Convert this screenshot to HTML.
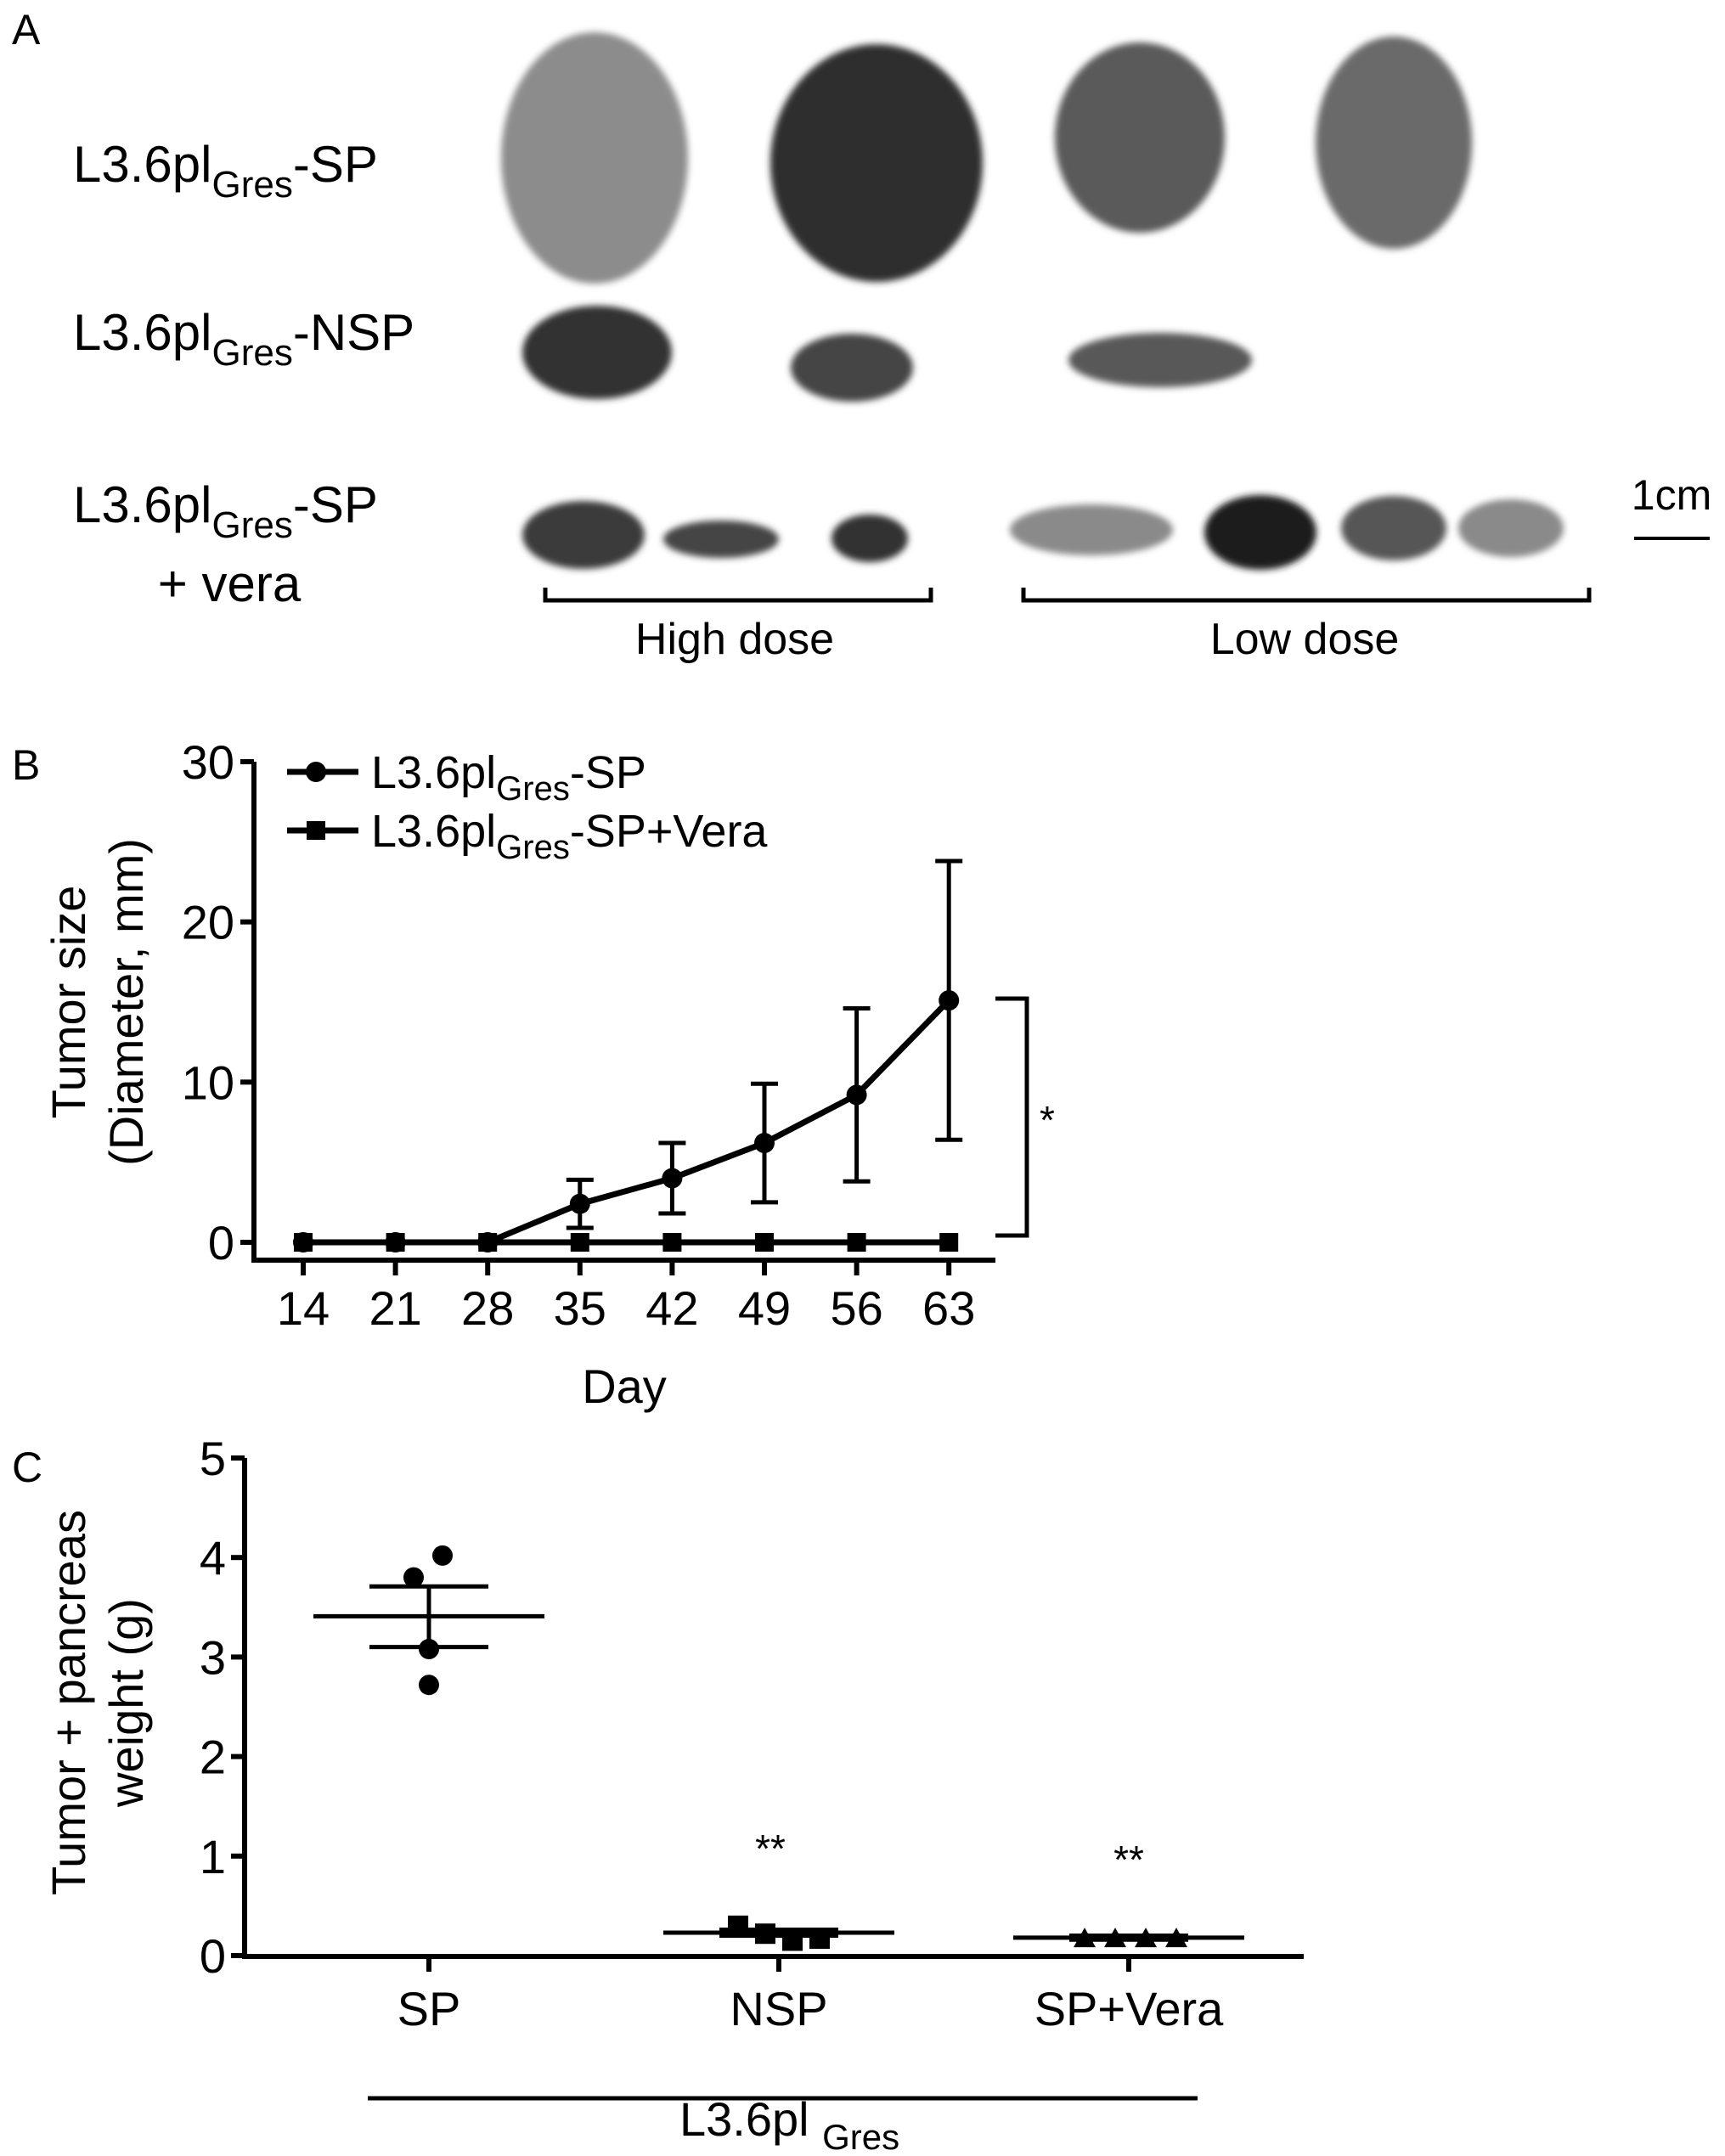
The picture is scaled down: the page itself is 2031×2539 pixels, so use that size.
<!DOCTYPE html>
<html><head><meta charset="utf-8"><style>
html,body{margin:0;padding:0;background:#fff}
svg{display:block;font-family:"Liberation Sans",Arial,sans-serif}
</style></head><body>
<svg id="fig" width="2031" height="2539" viewBox="0 0 2031 2539" xmlns="http://www.w3.org/2000/svg">
<defs><filter id="bl"><feGaussianBlur stdDeviation="4"/></filter></defs>
<!-- Panel A -->
<g>
<text x="14" y="52" font-size="50">A</text>
<text x="86" y="214" font-size="60">L3.6pl<tspan font-size="44" dy="18">Gres</tspan><tspan dy="-18">-SP</tspan></text>
<text x="86" y="412" font-size="60">L3.6pl<tspan font-size="44" dy="18">Gres</tspan><tspan dy="-18">-NSP</tspan></text>
<text x="86" y="615" font-size="60">L3.6pl<tspan font-size="44" dy="18">Gres</tspan><tspan dy="-18">-SP</tspan></text>
<text x="270" y="708" font-size="60" text-anchor="middle">+ vera</text>
<g filter="url(#bl)">
<ellipse cx="700" cy="186" rx="110" ry="148" fill="#8c8c8c"/>
<ellipse cx="1032" cy="192" rx="125" ry="140" fill="#2e2e2e"/>
<ellipse cx="1342" cy="162" rx="100" ry="112" fill="#5a5a5a"/>
<ellipse cx="1641" cy="168" rx="92" ry="125" fill="#6a6a6a"/>
<ellipse cx="703" cy="415" rx="88" ry="55" fill="#333"/>
<ellipse cx="1003" cy="433" rx="72" ry="40" fill="#444"/>
<ellipse cx="1366" cy="424" rx="108" ry="32" fill="#585858"/>
<ellipse cx="687" cy="630" rx="72" ry="40" fill="#3a3a3a"/>
<ellipse cx="849" cy="635" rx="68" ry="22" fill="#444"/>
<ellipse cx="1024" cy="634" rx="45" ry="28" fill="#333"/>
<ellipse cx="1285" cy="624" rx="96" ry="30" fill="#8a8a8a"/>
<ellipse cx="1484" cy="627" rx="66" ry="44" fill="#1c1c1c"/>
<ellipse cx="1641" cy="622" rx="62" ry="38" fill="#575757"/>
<ellipse cx="1779" cy="622" rx="62" ry="34" fill="#8a8a8a"/>
</g>
<path d="M642,692 V707 H1096 V692" fill="none" stroke="#000" stroke-width="5"/>
<path d="M1205,692 V707 H1871 V692" fill="none" stroke="#000" stroke-width="5"/>
<text x="865" y="770" font-size="52" text-anchor="middle">High dose</text>
<text x="1536" y="770" font-size="52" text-anchor="middle">Low dose</text>
<text x="1968" y="600" font-size="50" text-anchor="middle">1cm</text>
<line x1="1924" y1="634" x2="2013" y2="634" stroke="#000" stroke-width="4"/>
</g>
<g id="pb"></g>
<g id="pc"></g>
</svg>
<script>
const NS="http://www.w3.org/2000/svg";
// Panel B data
const days=[14,21,28,35,42,49,56,63];
const spMean=[0,0,0,2.4,4.0,6.2,9.2,15.1];
const spLow=[0,0,0,0.9,1.8,2.5,3.8,6.4];
const spHigh=[0,0,0,3.9,6.2,9.9,14.6,23.8];
const veraMean=[0,0,0,0,0,0,0,0];
const bYTicks=[0,10,20,30];
// Panel C data
const groups=["SP","NSP","SP+Vera"];
const spPts=[3.8,4.02,3.08,2.72];
const spPtsOff=[-18,16,0,0];
const nspPts=[0.3,0.22,0.15,0.17];
const veraPts=[0.17,0.17,0.17,0.17];
const groupMean=[3.41,0.23,0.18];
const groupSemLo=[3.1,0.2,0.16];
const groupSemHi=[3.71,0.26,0.2];
const cYTicks=[0,1,2,3,4,5];

function mk(parent,tag,attrs,text){const e=document.createElementNS(NS,tag);for(const k in attrs)e.setAttribute(k,attrs[k]);if(text!=null)e.textContent=text;parent.appendChild(e);return e;}

// ---- Panel B ----
const pb=document.getElementById('pb');
const bx=d=>357+(d-14)/7*108.6;
const by=v=>1463-v*(1463-897)/30;
let t=mk(pb,'text',{x:14,y:918,'font-size':50});t.textContent='B';


let ax=mk(pb,'path',{d:`M299,${by(30)} V1484 H1172`,fill:'none',stroke:'#000','stroke-width':6});


bYTicks.forEach(v=>{
 mk(pb,'line',{x1:283,x2:299,y1:by(v),y2:by(v),stroke:'#000','stroke-width':6});
 const l=mk(pb,'text',{x:276,y:by(v)+20,'font-size':56,'text-anchor':'end'},v);
 
 
});
days.forEach(d=>{
 mk(pb,'line',{x1:bx(d),x2:bx(d),y1:1484,y2:1502,stroke:'#000','stroke-width':6});
 const l=mk(pb,'text',{x:bx(d),y:1560,'font-size':56,'text-anchor':'middle'},d);
 
 
});
t=mk(pb,'text',{x:735,y:1652,'font-size':56,'text-anchor':'middle'},'Day');


t=mk(pb,'text',{transform:'translate(100,1180) rotate(-90)','font-size':56,'text-anchor':'middle'},'Tumor size');


t=mk(pb,'text',{transform:'translate(168,1180) rotate(-90)','font-size':56,'text-anchor':'middle'},'(Diameter, mm)');


// error bars
days.forEach((d,i)=>{
 if(spHigh[i]===spLow[i])return;
 const g=mk(pb,'path',{d:`M${bx(d)},${by(spLow[i])} V${by(spHigh[i])} M${bx(d)-16},${by(spLow[i])} h32 M${bx(d)-16},${by(spHigh[i])} h32`,stroke:'#000','stroke-width':5,fill:'none'});
 
 
});
let p=mk(pb,'polyline',{points:days.map((d,i)=>bx(d)+','+by(spMean[i])).join(' '),fill:'none',stroke:'#000','stroke-width':7});


p=mk(pb,'polyline',{points:days.map((d,i)=>bx(d)+','+by(veraMean[i])).join(' '),fill:'none',stroke:'#000','stroke-width':7});


days.forEach((d,i)=>{
 const c=mk(pb,'circle',{cx:bx(d),cy:by(spMean[i]),r:12,fill:'#000'});
 
 
 const s=mk(pb,'rect',{x:bx(d)-11,y:by(veraMean[i])-11,width:22,height:22,fill:'#000'});
 
 
});
// legend
[[909,'-SP','c'],[978,'-SP+Vera','s']].forEach(([y,suf,m])=>{
 const g=mk(pb,'g',{});
 
 
 mk(g,'line',{x1:338,x2:422,y1:y,y2:y,stroke:'#000','stroke-width':7});
 if(m==='c')mk(g,'circle',{cx:372,cy:y,r:12,fill:'#000'});else mk(g,'rect',{x:361,y:y-11,width:22,height:22,fill:'#000'});
 const tx=mk(g,'text',{x:437,y:y+19,'font-size':54});
 tx.innerHTML='L3.6pl<tspan font-size="40" dy="14">Gres</tspan><tspan dy="-14">'+suf+'</tspan>';
});
let br=mk(pb,'path',{d:'M1172,1176 H1209 V1455 H1172',fill:'none',stroke:'#000','stroke-width':5});


t=mk(pb,'text',{x:1233,y:1335,'font-size':46,'text-anchor':'middle'},'*');



// ---- Panel C ----
const pc=document.getElementById('pc');
const cy=v=>2303-v*(2303-1717)/5;
const gx=[505,917,1329];
t=mk(pc,'text',{x:14,y:1745,'font-size':50},'C');


ax=mk(pc,'path',{d:`M288,${cy(5)} V2304 H1535`,fill:'none',stroke:'#000','stroke-width':6});


cYTicks.forEach(v=>{
 mk(pc,'line',{x1:272,x2:288,y1:cy(v),y2:cy(v),stroke:'#000','stroke-width':6});
 const l=mk(pc,'text',{x:266,y:cy(v)+20,'font-size':56,'text-anchor':'end'},v);
 
 
});
groups.forEach((g,i)=>{
 mk(pc,'line',{x1:gx[i],x2:gx[i],y1:2304,y2:2322,stroke:'#000','stroke-width':6});
 const l=mk(pc,'text',{x:gx[i],y:2385,'font-size':56,'text-anchor':'middle'},g);
 
 
 const m=mk(pc,'line',{x1:gx[i]-136,x2:gx[i]+136,y1:cy(groupMean[i]),y2:cy(groupMean[i]),stroke:'#000','stroke-width':5});
 
 
 const e=mk(pc,'path',{d:`M${gx[i]},${cy(groupSemLo[i])} V${cy(groupSemHi[i])} M${gx[i]-70},${cy(groupSemLo[i])} h140 M${gx[i]-70},${cy(groupSemHi[i])} h140`,stroke:'#000','stroke-width':5,fill:'none'});
 
 
});
spPts.forEach((v,i)=>{
 const c=mk(pc,'circle',{cx:gx[0]+spPtsOff[i],cy:cy(v),r:12,fill:'#000'});
 
 
});
nspPts.forEach((v,i)=>{
 const x=gx[1]-48+i*32;
 const r=mk(pc,'rect',{x:x-12,y:cy(v)-12,width:24,height:24,fill:'#000'});
 
 
});
veraPts.forEach((v,i)=>{
 const x=gx[2]-52+i*36,y=cy(v);
 const tr=mk(pc,'polygon',{points:`${x},${y-13} ${x-13},${y+10} ${x+13},${y+10}`,fill:'#000'});
 
 
});
t=mk(pc,'text',{x:gx[1]-10,y:cy(1.16)+26,'font-size':46,'text-anchor':'middle'},'**');


t=mk(pc,'text',{x:gx[2],y:cy(1.05)+26,'font-size':46,'text-anchor':'middle'},'**');


let ul=mk(pc,'line',{x1:433,x2:1410,y1:2471,y2:2471,stroke:'#000','stroke-width':5});


t=mk(pc,'text',{x:800,y:2515,'font-size':56});
t.innerHTML='L3.6pl <tspan font-size="42" dy="16">Gres</tspan>';


t=mk(pc,'text',{transform:'translate(100,2005) rotate(-90)','font-size':56,'text-anchor':'middle'},'Tumor + pancreas');


t=mk(pc,'text',{transform:'translate(168,2005) rotate(-90)','font-size':56,'text-anchor':'middle'},'weight (g)');


</script>
</body></html>
